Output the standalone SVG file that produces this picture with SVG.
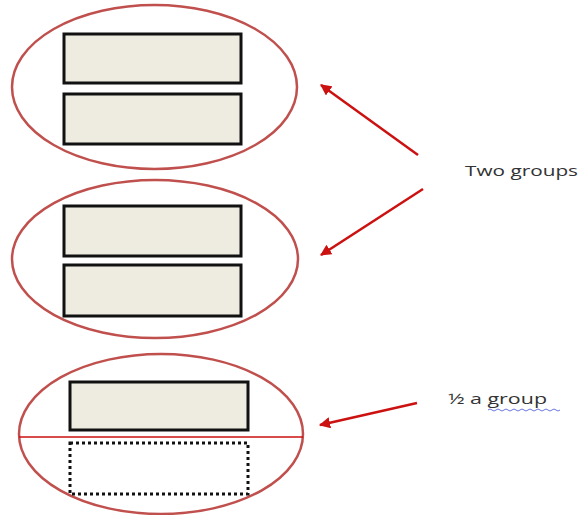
<svg xmlns="http://www.w3.org/2000/svg" width="582" height="515" viewBox="0 0 582 515">
<style>
.grp{fill:none;stroke:#c0504d;stroke-width:2.5}
.box{fill:#eeece1;stroke:#111;stroke-width:3}
.dot{fill:none;stroke:#111;stroke-width:3;stroke-dasharray:3 3}
.arr{stroke:#cc1111;stroke-width:2.5;fill:none;marker-end:url(#ah)}
.lbl{font-family:"Open Sans","Liberation Sans",sans-serif;font-size:15px;fill:#333}
</style>
<defs>
<marker id="ah" viewBox="0 0 10 10" refX="9" refY="5" markerWidth="4.5" markerHeight="4.5" orient="auto" markerUnits="strokeWidth">
<path d="M0,0 L10,5 L0,10 z" fill="#cc1111"/>
</marker>
</defs>
<rect width="582" height="515" fill="#fff"/>
<g id="group1">
<ellipse class="grp" cx="154.5" cy="87" rx="142.5" ry="82"/>
<rect class="box" x="64" y="34" width="177" height="49"/>
<rect class="box" x="64" y="94" width="177" height="50"/>
</g>
<g id="group2">
<ellipse class="grp" cx="155" cy="259" rx="143" ry="79"/>
<rect class="box" x="64" y="206" width="177" height="50"/>
<rect class="box" x="64" y="265" width="177" height="51"/>
</g>
<g id="halfgroup">
<ellipse class="grp" cx="161" cy="434" rx="142" ry="80"/>
<line x1="19" y1="437" x2="303" y2="437" stroke="#cc1111" stroke-width="1.5"/>
<rect class="box" x="70" y="382" width="178" height="48"/>
<rect class="dot" x="70" y="443" width="178" height="51"/>
</g>
<g id="connectors">
<line class="arr" x1="418" y1="155" x2="321" y2="85"/>
<line class="arr" x1="423" y1="189" x2="321" y2="255"/>
<line class="arr" x1="417" y1="403" x2="320" y2="425"/>
</g>
<g id="labels">
<text class="lbl" x="465" y="176" textLength="113" lengthAdjust="spacingAndGlyphs">Two groups</text>
<text class="lbl" x="448" y="404" textLength="99" lengthAdjust="spacingAndGlyphs">½ a group</text>
<path d="M488,410 q2,-2 4,0 t4,0 t4,0 t4,0 t4,0 t4,0 t4,0 t4,0 t4,0 t4,0 t4,0 t4,0 t4,0 t4,0 t4,0 t4,0 t4,0 t4,0" fill="none" stroke="#4455dd" stroke-width="0.8"/>
</g>
</svg>
